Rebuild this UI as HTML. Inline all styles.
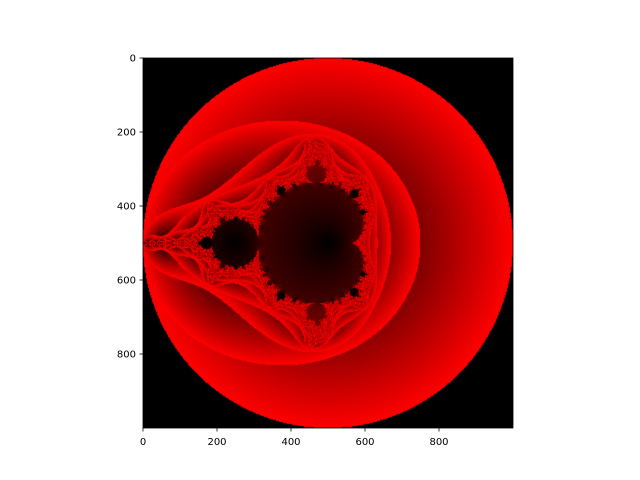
<!DOCTYPE html>
<html><head><meta charset="utf-8"><style>
html,body{margin:0;padding:0;background:#fff;}
#fig{position:relative;width:640px;height:480px;font-family:"DejaVu Sans","Liberation Sans",sans-serif;font-size:10px;color:#000;}
canvas{position:absolute;left:143px;top:58px;}
svg{position:absolute;left:0;top:0;}
</style></head><body>
<div id="fig">
<canvas id="img" width="370" height="370"></canvas>
<svg id="ax" width="640" height="480"></svg>
</div>
<script>
const xTicks=[0,200,400,600,800];
const yTicks=[0,200,400,600,800];
const imgSize=[1000,1000];
const domainRe=[-2,2];
const domainIm=[-2,2];
const maxIter=[40];
const L=143,T=58,W=370,H=370;
function sx(v){return L+v/imgSize[0]*W;}
function sy(v){return T+v/imgSize[1]*H;}
const cv=document.getElementById('img');const ctx=cv.getContext('2d');
const id=ctx.createImageData(W,H);
for(let j=0;j<H;j++){for(let i=0;i<W;i++){
 const cr=domainRe[0]+(domainRe[1]-domainRe[0])*(i+0.5)/W;
 const ci=domainIm[0]+(domainIm[1]-domainIm[0])*(j+0.5)/H;
 let zr=0,zi=0,prev=0,m=0;
 for(let n=0;n<maxIter[0];n++){const t=zr*zr-zi*zi+cr;zi=2*zr*zi+ci;zr=t;m=Math.hypot(zr,zi);if(m>2){break;}prev=m;}
 const r=Math.min(255,prev/2*255);
 const k=(j*W+i)*4;id.data[k]=r;id.data[k+1]=0;id.data[k+2]=0;id.data[k+3]=255;
}}
ctx.putImageData(id,0,0);
const svg=document.getElementById('ax');const NS='http://www.w3.org/2000/svg';
function mk(t,a){const e=document.createElementNS(NS,t);for(const k in a)e.setAttribute(k,a[k]);svg.appendChild(e);return e;}
const fr=mk('rect',{x:L,y:T,width:W,height:H,fill:'none',stroke:'#000','stroke-width':0.8});


xTicks.forEach(v=>{
 const x=sx(v);
 const tl=mk('line',{x1:x,x2:x,y1:T+H,y2:T+H+3.5,stroke:'#000','stroke-width':0.8});
 
 
 const tx=mk('text',{x:x,y:T+H+17,'text-anchor':'middle','font-size':10});tx.textContent=v;
 
 
});
yTicks.forEach(v=>{
 const y=sy(v);
 const tl=mk('line',{x1:L-3.5,x2:L,y1:y,y2:y,stroke:'#000','stroke-width':0.8});
 
 
 const tx=mk('text',{x:L-7,y:y+3.5,'text-anchor':'end','font-size':10});tx.textContent=v;
 
 
});
</script>
</body></html>
